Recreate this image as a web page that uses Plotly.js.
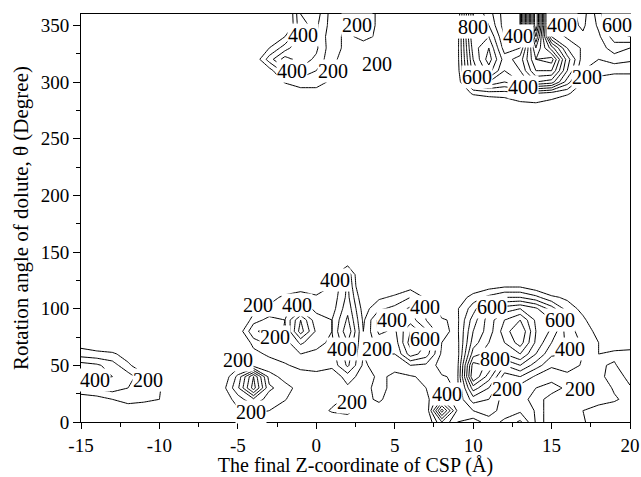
<!DOCTYPE html>
<html>
<head>
<meta charset="utf-8">
<script src="https://cdn.plot.ly/plotly-3.0.1.min.js"></script>
<style>html,body{margin:0;padding:0;background:#fff;}#chart{width:641px;height:477px;}</style>
</head>
<body>
<div id="chart"></div>
<script>
// Final Z-coordinate of CSP (Å)
const zCoord = [-15,-14,-13,-12,-11,-10,-9,-8,-7,-6,-5,-4,-3,-2,-1,0,1,2,3,4,5,6,7,8,9,10,11,12,13,14,15,16,17,18,19,20];
// Rotation angle θ (degree)
const theta = [0,10,20,30,40,50,60,70,80,90,100,110,120,130,140,150,270,280,290,300,310,320,330,340,350,360];
// Energy values (rows follow theta, columns follow zCoord)
const energy = [
 [0,0,0,0,0,0,0,0,0,0,150,150,100,0,0,0,80,100,0,0,0,0,80,400,200,150,250,320,420,190,210,220,210,150,150,100],
 [0,0,100,120,110,80,0,0,0,50,180,220,200,120,50,120,220,250,100,120,50,0,100,750,280,300,350,250,280,190,210,230,200,150,120,100],
 [120,150,200,250,230,200,100,0,0,120,250,380,250,210,100,50,150,230,150,230,100,80,150,400,220,450,400,250,220,180,220,230,230,250,220,150],
 [300,320,350,300,250,210,100,0,0,150,380,750,320,250,150,50,100,180,150,250,150,150,200,250,180,650,500,280,250,200,180,210,250,300,180,190],
 [450,420,400,350,230,150,0,0,0,100,330,700,260,150,120,150,120,250,150,220,180,190,220,210,180,900,650,350,400,280,220,250,260,230,150,230],
 [450,420,350,220,120,0,0,0,0,0,150,150,120,180,250,260,230,420,180,250,230,300,280,150,170,850,780,500,600,450,320,380,280,210,190,260],
 [250,230,220,150,0,0,0,0,0,0,0,150,230,280,300,280,260,450,200,300,300,550,450,180,160,650,750,700,800,600,420,400,300,200,220,230],
 [150,120,80,0,0,0,0,0,0,0,0,250,330,250,420,330,280,500,210,350,340,650,500,200,170,550,700,800,950,680,500,380,280,200,150,150],
 [0,0,0,0,0,0,0,0,0,0,120,380,450,280,650,380,300,580,200,420,380,600,420,220,180,500,650,850,1000,700,580,350,250,170,80,0],
 [0,0,0,0,0,0,0,0,0,0,0,260,330,300,600,330,300,520,180,430,350,450,300,210,180,450,650,800,900,680,600,320,220,120,0,0],
 [0,0,0,0,0,0,0,0,0,0,0,150,230,280,350,280,250,470,150,280,330,420,280,150,190,350,600,650,700,620,450,250,170,80,0,0],
 [0,0,0,0,0,0,0,0,0,0,0,0,150,230,250,220,230,430,100,180,220,300,180,0,120,250,330,400,400,330,220,180,100,0,0,0],
 [0,0,0,0,0,0,0,0,0,0,0,0,0,100,150,120,200,420,0,0,120,150,0,0,0,100,150,180,180,120,80,0,0,0,0,0],
 [0,0,0,0,0,0,0,0,0,0,0,0,0,0,0,0,150,380,0,0,0,0,0,0,0,0,0,0,0,0,0,0,0,0,0,0],
 [0,0,0,0,0,0,0,0,0,0,0,0,0,0,0,0,0,150,0,0,0,0,0,0,0,0,0,0,0,0,0,0,0,0,0,0],
 [0,0,0,0,0,0,0,0,0,0,0,0,0,0,0,0,0,0,0,0,0,0,0,0,0,0,0,0,0,0,0,0,0,0,0,0],
 [0,0,0,0,0,0,0,0,0,0,0,0,0,0,0,0,0,0,0,0,0,0,0,0,0,0,0,0,0,0,0,0,0,0,0,0],
 [0,0,0,0,0,0,0,0,0,0,0,0,0,0,0,0,0,0,0,0,0,0,0,0,0,50,80,100,170,180,150,80,30,20,0,0],
 [0,0,0,0,0,0,0,0,0,0,0,0,0,0,150,180,120,0,0,0,0,0,0,0,80,220,250,260,280,300,260,220,120,80,60,50],
 [0,0,0,0,0,0,0,0,0,0,0,0,0,220,250,220,190,150,0,0,0,0,0,0,130,500,600,500,600,800,750,450,200,180,150,150],
 [0,0,0,0,0,0,0,0,0,0,0,0,150,350,380,300,210,150,0,0,0,0,0,0,150,650,850,600,700,1000,1000,600,300,220,220,220],
 [0,0,0,0,0,0,0,0,0,0,0,100,350,550,450,380,220,160,0,0,0,0,0,0,160,700,950,650,750,1100,1150,650,350,300,350,320],
 [0,0,0,0,0,0,0,0,0,0,0,0,200,350,500,420,230,180,150,0,0,0,0,0,160,750,900,550,600,1200,850,500,380,350,450,400],
 [0,0,0,0,0,0,0,0,0,0,0,0,0,200,420,400,230,180,230,180,0,0,0,0,150,800,800,500,450,1400,500,380,320,380,550,600],
 [0,0,0,0,0,0,0,0,0,0,0,0,0,0,380,420,250,190,260,180,0,0,0,0,130,820,700,450,400,1600,400,350,280,420,650,650],
 [0,0,0,0,0,0,0,0,0,0,0,0,0,0,400,450,250,190,260,180,0,0,0,0,100,800,650,450,400,1600,400,350,260,450,700,650]
];
const xTickVals = [-15,-10,-5,0,5,10,15,20];
const xTickText = ['-15','-10','-5','0','5','10','15','20'];
const yTickVals = [0,50,100,150,200,250,300,350];
const yTickText = ['0','50','100','150','200','250','300','350'];
// Contour level labels shown on the chart
const labelText = ['400','200','200','200','200','400','200','400','400','200','200','400','400','600','400','600','800','200','600','400','200',
                   '400','400','200','200','200','800','400','600','400','400','200','600'];

const FONT = 'Liberation Serif';
const black = [[0,'#000'],[1,'#000']];
const data = [{
  type: 'contour', x: zCoord, y: theta, z: energy,
  autocontour: false,
  contours: {start: 200, end: 2000, size: 100, coloring: 'lines', showlabels: false},
  line: {width: 1, smoothing: 0},
  colorscale: black, showscale: false, hoverinfo: 'skip'
}];

// label placement (layout only)
const spots = [[-14.1,36.8],[-10.7,36.8],[-4.97,54.4],[-4.15,8.8],[-3.7,103],[-1.25,103],[-2.63,75],[1.19,125],[1.62,64.7],[3.85,64.7],[2.26,17.6],
  [4.8,89.7],[6.93,101.5],[6.93,73.6],[8.31,25],[11.18,101.5],[11.39,55.9],[12.13,29.4],[15.54,89.7],[16.17,64.7],[16.8,29.4],
  [-0.83,341.2],[-1.57,310],[1.08,310],[2.57,350],[3.85,316],[10.01,348.5],[12.88,341],[10.22,304.4],[13.2,295.6],[15.64,350],[17.24,304.4],[19.15,350]];
const annotations = labelText.map((t, i) => ({
  x: spots[i][0], y: spots[i][1], xref: 'x', yref: 'y', text: t, showarrow: false,
  font: {family: FONT, size: 20, color: '#000'}, bgcolor: '#fff', borderpad: 0, xanchor: 'center', yanchor: 'middle'
}));

const layout = {
  width: 641, height: 477,
  margin: {l: 81, r: 11, t: 14, b: 55},
  paper_bgcolor: '#fff', plot_bgcolor: '#fff',
  font: {family: FONT, size: 19, color: '#000'},
  showlegend: false,
  annotations: annotations,
  xaxis: {range: [-15, 20], tickmode: 'array', tickvals: xTickVals, ticktext: xTickText,
    tickfont: {family: FONT, size: 19, color: '#000'},
    ticks: 'outside', ticklen: 6, tickwidth: 1, tickcolor: '#000',
    minor: {dtick: 2.5, ticks: 'outside', ticklen: 4, tickcolor: '#000'},
    showline: true, linecolor: '#000', linewidth: 1, mirror: true,
    showgrid: false, zeroline: false,
    title: {text: 'The final Z-coordinate of CSP (Å)', font: {family: FONT, size: 20, color: '#000'}, standoff: 4}},
  yaxis: {range: [0, 360], tickmode: 'array', tickvals: yTickVals, ticktext: yTickText,
    tickfont: {family: FONT, size: 19, color: '#000'},
    ticks: 'outside', ticklen: 7, tickwidth: 1, tickcolor: '#000',
    minor: {dtick: 25, ticks: 'outside', ticklen: 4, tickcolor: '#000'},
    showline: true, linecolor: '#000', linewidth: 1, mirror: true,
    showgrid: false, zeroline: false,
    title: {text: 'Rotation angle of dolute, θ (Degree)', font: {family: FONT, size: 21, color: '#000'}, standoff: 6}}
};
Plotly.newPlot('chart', data, layout, {displayModeBar: false, staticPlot: true});
</script>
</body>
</html>
